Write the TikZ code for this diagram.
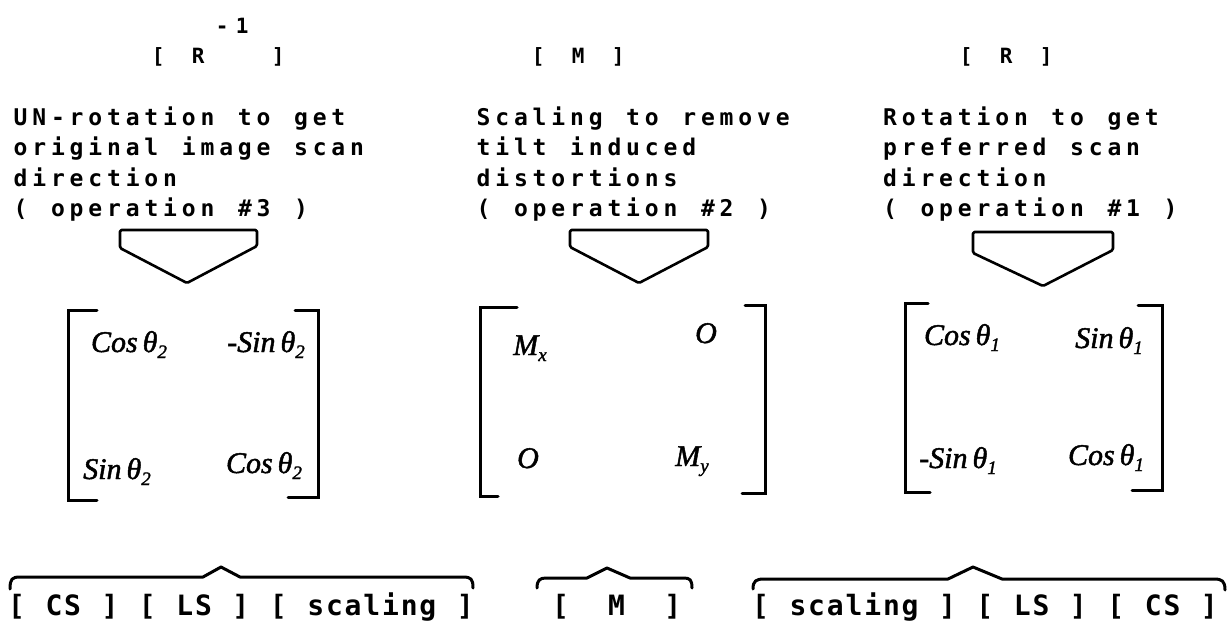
\documentclass[tikz,border=0pt]{standalone}
\usepackage{fontspec}
\newfontfamily\monoF{DejaVu Sans Mono}
\newfontfamily\hand{Liberation Serif}[FakeBold=1.6]
\ExplSyntaxOn
\dim_new:N \l_mycell_dim
\NewDocumentCommand \mtext { m m }
  {
    \dim_set:Nn \l_mycell_dim {#1}
    \str_map_inline:nn {#2}
      {
        \str_if_eq:nnTF {##1} {_}
          { \hbox_to_wd:nn {\l_mycell_dim} { } }
          {
            \str_if_eq:nnTF {##1} {@}
              { \hbox_to_wd:nn {\l_mycell_dim} { \hfil \# \hfil } }
              { \hbox_to_wd:nn {\l_mycell_dim} { \hfil ##1 \hfil } }
          }
      }
  }
\ExplSyntaxOff
\newcommand\subs[1]{\raisebox{-6pt}{\fontsize{19}{19}\selectfont #1}}
\newcommand\myfontA{\monoF\bfseries\fontsize{23}{23}\selectfont}
\newcommand\myfontH{\monoF\bfseries\fontsize{21}{21}\selectfont}
\newcommand\myfontB{\monoF\bfseries\fontsize{28}{28}\selectfont}
\newcommand\myfontE{\hand\itshape\fontsize{30}{30}\selectfont}
\tikzset{
  txt/.style={anchor=base west, inner sep=0pt, font=\myfontA},
  htxt/.style={anchor=base west, inner sep=0pt, font=\myfontH},
  btxt/.style={anchor=base west, inner sep=0pt, font=\myfontB},
  ent/.style={inner sep=0pt, anchor=base, font=\myfontE},
  brk/.style={line width=3pt, line cap=round, line join=miter},
  pent/.style={line width=2.6pt, line join=round, rounded corners=1.5pt},
  brace/.style={line width=3pt, line cap=round, line join=round}
}
\begin{document}
\begin{tikzpicture}[x=1pt,y=-1pt]
\useasboundingbox (0,0) rectangle (1228,624);
% headers
\node[htxt] (hl) at (148,63) {\mtext{20pt}{[_R___]}};
\node[htxt] (hlsup) at (212,33) {\mtext{20pt}{-1}};
\node[htxt] (hm) at (528,63) {\mtext{20pt}{[_M_]}};
\node[htxt] (hr) at (956,63) {\mtext{20pt}{[_R_]}};
% descriptions
\node[txt] (l1) at (11,125) {\mtext{18.7pt}{UN-rotation_to_get}};
\node[txt] (l2) at (11,155.5) {\mtext{18.7pt}{original_image_scan}};
\node[txt] (l3) at (11,186) {\mtext{18.7pt}{direction}};
\node[txt] (l4) at (11,216) {\mtext{18.7pt}{(_operation_@3_)}};
\node[txt] (m1) at (474,125) {\mtext{18.7pt}{Scaling_to_remove}};
\node[txt] (m2) at (474,155.5) {\mtext{18.7pt}{tilt_induced}};
\node[txt] (m3) at (474,186) {\mtext{18.7pt}{distortions}};
\node[txt] (m4) at (474,216) {\mtext{18.7pt}{(_operation_@2_)}};
\node[txt] (r1) at (880.5,125) {\mtext{18.7pt}{Rotation_to_get}};
\node[txt] (r2) at (880.5,155.5) {\mtext{18.7pt}{preferred_scan}};
\node[txt] (r3) at (880.5,186) {\mtext{18.7pt}{direction}};
\node[txt] (r4) at (880.5,216) {\mtext{18.7pt}{(_operation_@1_)}};
% pentagon arrows
\draw[pent] (120,230) -- (257,230) -- (257,246) -- (187,283) -- (120,248) -- cycle;
\draw[pent] (570,230) -- (708,230) -- (708,247) -- (639,283) -- (570,247) -- cycle;
\draw[pent] (973,232) -- (1113,232) -- (1113,250) -- (1043,286) -- (973,253) -- cycle;
% left matrix
\draw[brk] (97,310) -- (68,310) -- (68,500) -- (97,500);
\draw[brk] (295,310) -- (318,310) -- (318,497) -- (288,497);
\node[ent] (a11) at (129,352) {Cos\,θ\subs{2}};
\node[ent] (a12) at (266,352) {-Sin\,θ\subs{2}};
\node[ent] (a21) at (117,479) {Sin\,θ\subs{2}};
\node[ent] (a22) at (264,473) {Cos\,θ\subs{2}};
% middle matrix
\draw[brk] (517,307) -- (480,307) -- (480,496) -- (498,496);
\draw[brk] (745,305) -- (765,305) -- (765,493) -- (742,493);
\node[ent] (b11) at (530,355) {M\subs{x}};
\node[ent] (b12) at (706,343) {O};
\node[ent] (b21) at (528,468) {O};
\node[ent] (b22) at (692,466) {M\subs{y}};
% right matrix
\draw[brk] (928,303) -- (905,303) -- (905,492) -- (930,492);
\draw[brk] (1138,305) -- (1162,305) -- (1162,490) -- (1132,490);
\node[ent] (c11) at (962,345) {Cos\,θ\subs{1}};
\node[ent] (c12) at (1109,348) {Sin\,θ\subs{1}};
\node[ent] (c21) at (958,468) {-Sin\,θ\subs{1}};
\node[ent] (c22) at (1106,465) {Cos\,θ\subs{1}};
% braces
\draw[brace] (10,589) .. controls (10,579) and (12,577) .. (20,577) -- (203,577) -- (221,567) -- (240,577) -- (463,577) .. controls (471,577) and (473,579) .. (473,588);
\draw[brace] (537,588) .. controls (537,580) and (540,578) .. (546,578) -- (587,578) -- (607,568) -- (630,578) -- (684,578) .. controls (690,578) and (692,580) .. (692,588);
\draw[brace] (753,589) .. controls (753,581) and (756,579) .. (764,579) -- (948,579) -- (973,567) -- (1002,579) -- (1214,579) .. controls (1222,579) and (1225,581) .. (1225,590);
% bottom texts
\node[btxt] (bl) at (7,615) {\mtext{18.7pt}{[_CS_]_[_LS_]_[_scaling_]}};
\node[btxt] (bm) at (551,615) {\mtext{18.7pt}{[__M__]}};
\node[btxt] (br) at (751,615) {\mtext{18.7pt}{[_scaling_]_[_LS_]_[_CS_]}};
\end{tikzpicture}
\end{document}
